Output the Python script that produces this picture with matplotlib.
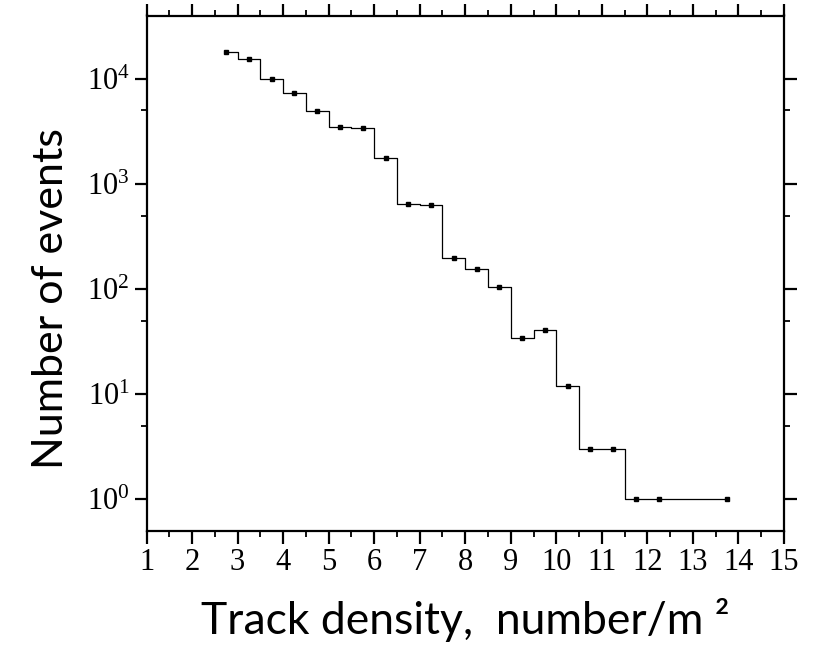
import matplotlib
matplotlib.use("Agg")
import matplotlib.pyplot as plt
from matplotlib.ticker import MultipleLocator, FixedLocator, NullFormatter, LogFormatterMathtext

plt.rcParams["mathtext.fontset"] = "custom"
plt.rcParams["mathtext.rm"] = "Liberation Serif"
plt.rcParams["mathtext.it"] = "Liberation Serif:italic"

# Bin centres (tracks per m^2) and event counts per bin
density = [2.75, 3.25, 3.75, 4.25, 4.75, 5.25, 5.75, 6.25, 6.75, 7.25,
           7.75, 8.25, 8.75, 9.25, 9.75, 10.25, 10.75, 11.25, 11.75, 12.25, 13.75]
events = [18000, 15300, 10000, 7400, 4900, 3450, 3400, 1780, 645, 627,
          197, 155, 105, 34, 41, 12, 3, 3, 1, 1, 1]

x_ticks = list(range(1, 16))
x_label = "Track density,  number/m \u00b2"
y_label = "Number of events"

fig = plt.figure(figsize=(8.13, 6.55), dpi=100)
ax = fig.add_axes([146.5 / 813, 1 - 531 / 655, (784 - 146.5) / 813, (531 - 15.5) / 655])

ax.step(density, events, where="mid", color="black", lw=0.9)
ax.plot(density, events, ls="none", marker="s", ms=3.2, color="black")

ax.set_yscale("log")
ax.set_xlim(1, 15)
ax.set_ylim(0.5, 40000)

ax.xaxis.set_major_locator(FixedLocator(x_ticks))
ax.xaxis.set_minor_locator(MultipleLocator(0.5))
ax.yaxis.set_major_locator(FixedLocator([1, 10, 100, 1000, 10000]))
ax.yaxis.set_minor_locator(FixedLocator([5, 50, 500, 5000]))
ax.yaxis.set_major_formatter(LogFormatterMathtext())
ax.yaxis.set_minor_formatter(NullFormatter())

for s in ax.spines.values():
    s.set_linewidth(1.6)

ax.tick_params(which="major", direction="out", length=9, width=1.6,
               top=True, right=True, labelsize=22, pad=3)
ax.tick_params(which="minor", direction="out", length=4.5, width=1.3,
               top=True, right=True)
for lab in ax.get_xticklabels() + ax.get_yticklabels():
    lab.set_fontfamily("Liberation Serif")

ax.set_xlabel(x_label, fontsize=32, family="Lato")
ax.set_ylabel(y_label, fontsize=31, family="Lato")
ax.xaxis.set_label_coords(0.5, -0.13)
ax.yaxis.set_label_coords(-0.12, 0.45)

fig.savefig("out.png", dpi=100)
